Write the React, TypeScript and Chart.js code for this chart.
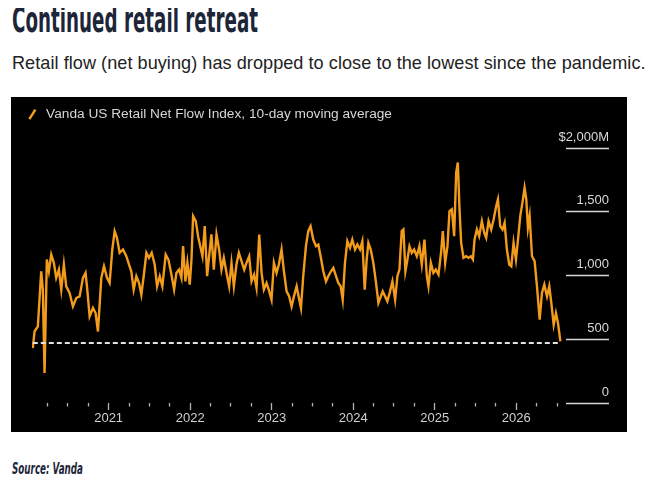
import React, { useEffect, useRef } from 'react';
import { Chart, registerables } from 'chart.js';

Chart.register(...registerables);

const TITLE = 'Continued retail retreat';
const SUBTITLE = 'Retail flow (net buying) has dropped to close to the lowest since the pandemic.';
const SOURCE = 'Source: Vanda';
const SERIES_LABEL = 'Vanda US Retail Net Flow Index, 10-day moving average';

// Dates as decimal years
const dates: number[] = [
  2020.070, 2020.091, 2020.132, 2020.173, 2020.193, 2020.214, 2020.242, 2020.267, 2020.296, 2020.328,
  2020.357, 2020.390, 2020.419, 2020.451, 2020.480, 2020.521, 2020.562, 2020.603, 2020.644, 2020.685,
  2020.717, 2020.738, 2020.767, 2020.808, 2020.840, 2020.869, 2020.910, 2020.943, 2020.980, 2021.012,
  2021.045, 2021.074, 2021.102, 2021.135, 2021.176, 2021.217, 2021.250, 2021.278, 2021.307, 2021.340,
  2021.373, 2021.401, 2021.430, 2021.463, 2021.495, 2021.528, 2021.565, 2021.594, 2021.627, 2021.659,
  2021.700, 2021.733, 2021.770, 2021.803, 2021.831, 2021.864, 2021.893, 2021.913, 2021.942, 2021.966,
  2021.995, 2022.016, 2022.036, 2022.069, 2022.097,
  2022.151, 2022.179, 2022.208, 2022.241, 2022.261, 2022.290, 2022.323, 2022.355, 2022.384, 2022.413,
  2022.446, 2022.478, 2022.507, 2022.536, 2022.568, 2022.597, 2022.630, 2022.663, 2022.691, 2022.724,
  2022.753, 2022.785, 2022.814, 2022.847, 2022.876, 2022.904, 2022.937, 2022.970, 2022.998, 2023.027,
  2023.060, 2023.088, 2023.121, 2023.150, 2023.183, 2023.215, 2023.244, 2023.273, 2023.306, 2023.334,
  2023.359, 2023.387, 2023.420, 2023.449, 2023.477, 2023.510, 2023.543, 2023.572, 2023.600, 2023.633,
  2023.666, 2023.694, 2023.727, 2023.756, 2023.789, 2023.817, 2023.846, 2023.871, 2023.899, 2023.928,
  2023.961, 2023.989, 2024.022, 2024.051, 2024.084, 2024.112, 2024.141, 2024.165, 2024.186, 2024.215,
  2024.247, 2024.280, 2024.309,
  2024.362, 2024.391, 2024.419, 2024.452, 2024.481, 2024.514, 2024.542, 2024.567, 2024.595, 2024.616,
  2024.640, 2024.665, 2024.690, 2024.718, 2024.747, 2024.780, 2024.812, 2024.841, 2024.874, 2024.903,
  2024.923, 2024.952, 2024.984, 2025.013, 2025.046, 2025.079, 2025.099, 2025.128, 2025.156, 2025.181,
  2025.210, 2025.238, 2025.263, 2025.283, 2025.304, 2025.324, 2025.353, 2025.386, 2025.414, 2025.443,
  2025.468, 2025.488, 2025.517, 2025.545, 2025.578, 2025.607, 2025.631, 2025.660, 2025.693, 2025.722,
  2025.754, 2025.775, 2025.803, 2025.832, 2025.857, 2025.885, 2025.914, 2025.939, 2025.967, 2025.996,
  2026.021, 2026.049, 2026.082, 2026.102, 2026.123, 2026.143, 2026.164, 2026.193, 2026.225, 2026.254,
  2026.287, 2026.315, 2026.344, 2026.377, 2026.405, 2026.430, 2026.459, 2026.487, 2026.512, 2026.541,
];

// Net flow, $M (10-day moving average)
const flows: number[] = [
  431, 561, 601, 1034, 890, 236, 1126, 1034, 1165, 1100,
  982, 1047, 890, 1087, 916, 864, 758, 824, 837, 982,
  1021, 890, 680, 746, 706, 561, 982, 1073, 982, 942,
  1205, 1349, 1297, 1179, 1205, 1152, 1087, 1034, 890, 995,
  942, 850, 995, 1179, 1139, 1179, 1087, 916, 995, 916,
  1165, 1126, 1008, 890, 1021, 1047, 982, 1231, 955, 1100,
  929, 1126, 1467, 1428, 1309,
  1152, 1388, 995, 1205, 1323, 1047, 1323, 1205, 1047, 1139,
  1021, 916, 1100, 916, 1087, 1179, 1113, 1047, 1100, 1152,
  955, 1008, 903, 1323, 1021, 890, 942, 876, 811, 1100,
  1021, 1087, 1205, 1034, 876, 837, 758, 837, 916, 824,
  746, 995, 1231, 1349, 1388, 1283, 1231, 1244, 1152, 1034,
  955, 995, 1034, 1060, 995, 942, 916, 811, 1100, 1270,
  1218, 1283, 1205, 1244, 1205, 1270, 890, 1126, 1257, 1205,
  1100, 942, 785,
  876, 837, 798, 876, 955, 811, 995, 1047, 1349, 1362,
  1034, 1126, 1231, 1179, 1205, 1152, 1231, 1087, 1283, 995,
  916, 1100, 1021, 1047, 1008, 1191, 1349, 1100, 1231, 1506,
  1520, 1309, 1809, 1888, 1520, 1257, 1139, 1152, 1139, 1152,
  1126, 1283, 1362, 1309, 1428, 1336, 1297, 1428, 1362, 1441,
  1546, 1598, 1388, 1362, 1415, 1205, 1087, 1073, 1257, 1126,
  1283, 1467, 1598, 1690, 1598, 1375, 1467, 1152, 1113, 916,
  654, 864, 929, 837, 916, 785, 614, 706, 627, 483,
];

const referenceLevel = 470;
const yearLabels: number[] = [2020, 2021, 2022, 2023, 2024, 2025, 2026];
const firstTick = 2020.25;
const lastTick = 2026.5;
const yTickValues: number[] = [0, 500, 1000, 1500, 2000];
const yTickLabels: string[] = ['0', '500', '1,000', '1,500', '$2,000M'];
const xMin = 2020.06;
const xMax = 2026.61;

const ORANGE = '#f39c1c';
const NAVY = '#1c2638';
const FONT = '"Liberation Sans", Arial, Helvetica, sans-serif';
const NARROW = '"Liberation Sans Narrow", "DejaVu Sans Condensed", "Liberation Sans", sans-serif';

export default function App() {
  const canvasRef = useRef<HTMLCanvasElement | null>(null);
  const titleRef = useRef<HTMLSpanElement | null>(null);
  const sourceRef = useRef<HTMLSpanElement | null>(null);

  useEffect(() => {
    const fit = (el: HTMLSpanElement | null, target: number) => {
      if (!el) return;
      el.style.transform = 'none';
      const w = el.getBoundingClientRect().width;
      if (w > 0) el.style.transform = `scaleX(${target / w})`;
    };
    fit(titleRef.current, 246);
    fit(sourceRef.current, 71);
  }, []);

  useEffect(() => {
    if (!canvasRef.current) return;
    Chart.defaults.font.family = FONT;

    const legendSpacing = {
      id: 'legendSpacing',
      beforeInit(chart: any) {
        const legend = chart.legend;
        if (!legend) return;
        const orig = legend.fit;
        legend.fit = function fit() {
          orig.bind(legend)();
          this.height += 17;
        };
      },
    };

    const chart = new Chart(canvasRef.current, {
      type: 'line',
      data: {
        datasets: [
          {
            label: 'reference',
            data: [
              { x: dates[0], y: referenceLevel },
              { x: dates[dates.length - 1], y: referenceLevel },
            ],
            xAxisID: 'x',
            yAxisID: 'y',
            borderColor: '#e2e2e2',
            borderWidth: 2,
            borderDash: [5, 3],
            pointRadius: 0,
            order: 0,
          },
          {
            label: SERIES_LABEL,
            data: dates.map((d, i) => ({ x: d, y: flows[i] })),
            xAxisID: 'x',
            yAxisID: 'y',
            borderColor: ORANGE,
            borderWidth: 2.4,
            pointRadius: 0,
            tension: 0,
            order: 1,
          },
        ],
      },
      options: {
        animation: false,
        responsive: false,
        events: [],
        layout: { padding: { top: -4, right: 18, bottom: 0, left: 0 } },
        plugins: {
          tooltip: { enabled: false },
          legend: {
            display: true,
            position: 'top',
            align: 'start',
            labels: {
              usePointStyle: true,
              boxHeight: 8,
              padding: 14.5,
              color: '#d6d6d6',
              font: { size: 13.7, family: FONT },
              generateLabels: () => [
                {
                  text: SERIES_LABEL,
                  fillStyle: ORANGE,
                  strokeStyle: ORANGE,
                  lineWidth: 2.5,
                  pointStyle: 'line',
                  rotation: -58,
                  hidden: false,
                  datasetIndex: 1,
                  fontColor: '#d6d6d6',
                } as any,
              ],
            },
          },
        },
        scales: {
          x: {
            type: 'linear',
            min: xMin,
            max: xMax,
            afterBuildTicks: (scale: any) => {
              const ticks: { value: number }[] = [];
              yearLabels.forEach((yr) => {
                [0, 0.25, 0.5, 0.75].forEach((q) => {
                  const v = yr + q;
                  if (v >= firstTick && v <= lastTick) ticks.push({ value: v });
                });
              });
              scale.ticks = ticks;
            },
            afterFit: (scale: any) => {
              scale.height = 29;
              scale.paddingLeft = 0;
              scale.paddingRight = 0;
            },
            border: { display: false },
            grid: {
              drawOnChartArea: false,
              drawTicks: true,
              tickLength: 7,
              tickColor: '#b5b5b5',
              tickWidth: 1.3,
              tickBorderDash: (ctx: any) =>
                ctx.tick && Number.isInteger(ctx.tick.value) ? [] : [3.5, 20],
            },
            ticks: {
              autoSkip: false,
              maxRotation: 0,
              minRotation: 0,
              padding: 1,
              color: '#cfcfcf',
              font: { size: 13, family: FONT },
              callback: (v: any) => (Number.isInteger(v) ? String(v) : ''),
            },
          },
          y: {
            type: 'linear',
            position: 'right',
            min: 0,
            max: 2000,
            afterBuildTicks: (scale: any) => {
              scale.ticks = yTickValues.map((v) => ({ value: v }));
            },
            afterFit: (scale: any) => {
              scale.width = 43;
              scale.paddingTop = 0;
              scale.paddingBottom = 0;
            },
            border: { display: false },
            grid: {
              drawOnChartArea: false,
              drawTicks: true,
              tickLength: 43,
              tickColor: '#d4d4d4',
              tickWidth: 1.5,
            },
            ticks: {
              mirror: true,
              crossAlign: 'near',
              padding: 43,
              labelOffset: -11,
              color: '#d8d8d8',
              font: { size: 13, family: FONT },
              callback: (v: any) => {
                const i = yTickValues.indexOf(Number(v));
                return i >= 0 ? yTickLabels[i] : '';
              },
            },
          },
          yLeft: {
            type: 'linear',
            position: 'left',
            display: true,
            min: 0,
            max: 2000,
            grid: { display: false, drawTicks: false },
            border: { display: false },
            ticks: { display: false },
            afterFit: (scale: any) => {
              scale.width = 21;
              scale.paddingTop = 0;
              scale.paddingBottom = 0;
            },
          },
        },
      } as any,
      plugins: [legendSpacing],
    });
    return () => chart.destroy();
  }, []);

  return (
    <div style={{ position: 'relative', width: 639, height: 470, fontFamily: FONT }}>
      <div
        style={{
          position: 'absolute',
          left: 4,
          top: -8,
          height: 40,
          lineHeight: '40px',
          fontSize: 36,
          fontWeight: 700,
          color: NAVY,
          whiteSpace: 'nowrap',
          fontFamily: NARROW,
        }}
      >
        <span ref={titleRef} style={{ display: 'inline-block', transformOrigin: 'left center' }}>
          {TITLE}
        </span>
      </div>
      <div
        style={{
          position: 'absolute',
          left: 4,
          top: 43,
          lineHeight: '24px',
          fontSize: 18.1,
          letterSpacing: '0.05px',
          color: '#222222',
          whiteSpace: 'nowrap',
        }}
      >
        {SUBTITLE}
      </div>
      <div
        style={{
          position: 'absolute',
          left: 3,
          top: 89,
          width: 616,
          height: 335,
          background: '#000000',
        }}
      >
        <canvas ref={canvasRef} width={616} height={335} style={{ display: 'block', width: 616, height: 335 }} />
      </div>
      <div
        style={{
          position: 'absolute',
          left: 4,
          top: 452,
          lineHeight: '18px',
          fontSize: 15,
          fontWeight: 700,
          fontStyle: 'italic',
          color: NAVY,
          whiteSpace: 'nowrap',
          fontFamily: NARROW,
        }}
      >
        <span ref={sourceRef} style={{ display: 'inline-block', transformOrigin: 'left center' }}>
          {SOURCE}
        </span>
      </div>
    </div>
  );
}
